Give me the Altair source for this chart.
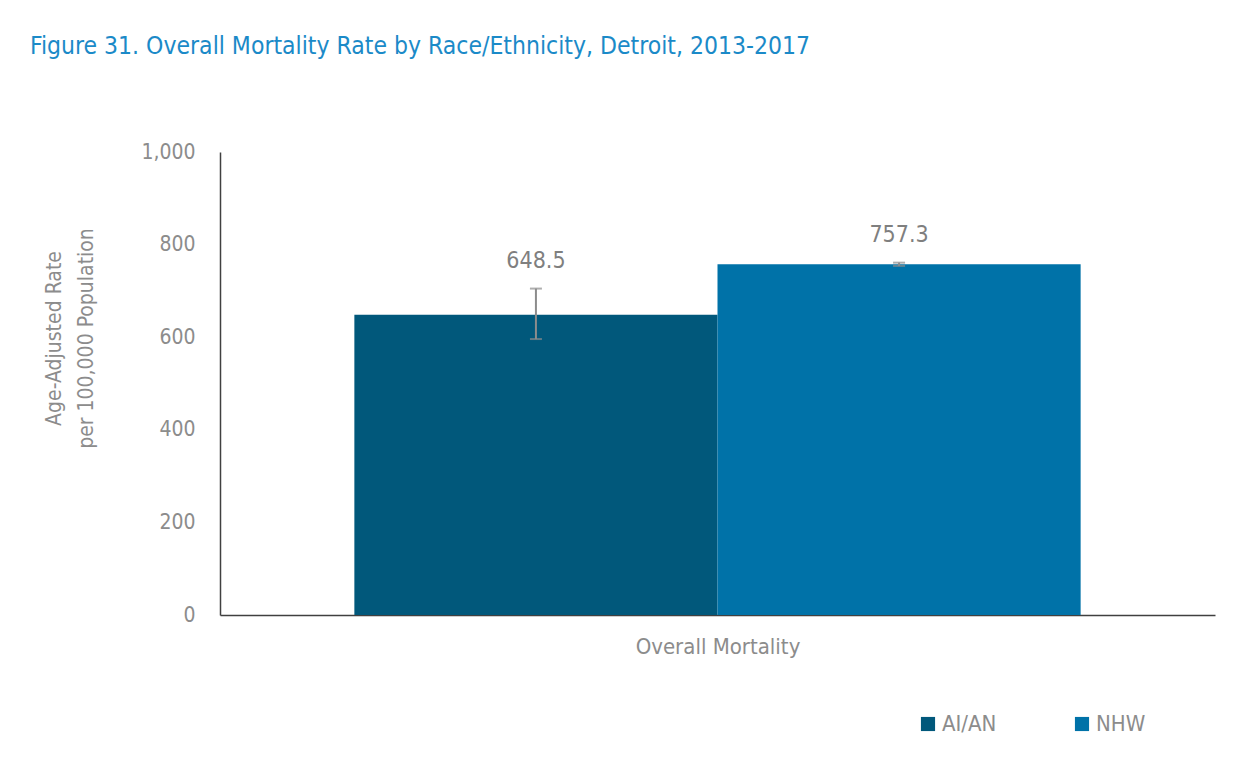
import altair as alt
import pandas as pd

groups = ["AI/AN", "NHW"]
rates = [648.5, 757.3]
lower = [596, 754]
upper = [705, 761]
labels = ["648.5", "757.3"]
colors = ["#01587B", "#0072A8"]

df = pd.DataFrame({"group": groups, "rate": rates, "lo": lower, "hi": upper, "label": labels})

FONT = "DejaVu Sans Condensed, Roboto Condensed, Liberation Sans Narrow, Roboto, sans-serif"
GRAY = "#8C8C8C"

x = alt.X("group:N", sort=groups,
          scale=alt.Scale(paddingInner=0, paddingOuter=0.37),
          axis=alt.Axis(labels=False, ticks=False, domainColor="#404040", domainWidth=1.5,
                        title="Overall Mortality", titleFont=FONT, titleFontSize=22,
                        titleFontWeight="normal", titleColor=GRAY, titlePadding=21))
y = alt.Y("rate:Q", scale=alt.Scale(domain=[0, 1000]),
          axis=alt.Axis(values=[0, 200, 400, 600, 800, 1000], format=",.0f", grid=False, ticks=False,
                        domainColor="#404040", domainWidth=1.5, labelFont=FONT, labelFontSize=21,
                        labelColor=GRAY, labelPadding=25,
                        title=["Age-Adjusted Rate", "per 100,000 Population"],
                        titleFont=FONT, titleFontSize=21, titleFontWeight="normal",
                        titleLineHeight=32, titleY=186,
                        titleColor=GRAY, titlePadding=44))

base = alt.Chart(df)
bars = base.mark_bar().encode(
    x=x, y=y,
    color=alt.Color("group:N", sort=groups, scale=alt.Scale(domain=groups, range=colors),
                    legend=alt.Legend(title=None, orient="none", legendX=697, legendY=561,
                                      direction="horizontal", symbolType="square", symbolSize=200,
                                      symbolStrokeWidth=0, labelFont=FONT, labelFontSize=22,
                                      labelColor=GRAY, columnPadding=74, labelOffset=3))
)
err = base.mark_rule(color=GRAY, strokeWidth=2).encode(x="group:N", y="lo:Q", y2="hi:Q")
cap_lo = base.mark_tick(color=GRAY, thickness=2, size=12).encode(x="group:N", y="lo:Q")
cap_hi = base.mark_tick(color=GRAY, thickness=2, size=12).encode(x="group:N", y="hi:Q")
text = base.mark_text(font=FONT, fontSize=23, color="#7F7F7F", dy=-28).encode(
    x="group:N", y="hi:Q", text="label:N")

chart = alt.layer(bars, err, cap_lo, cap_hi, text).properties(
    width=995, height=463,
    autosize=alt.AutoSizeParams(type="none"),
    padding={"left": 212, "top": 144, "right": 27, "bottom": 147},
    title=alt.TitleParams("Figure 31. Overall Mortality Rate by Race/Ethnicity, Detroit, 2013-2017",
                          anchor="start", frame="group", font=FONT, fontSize=24.5,
                          fontWeight="normal", color="#1B8AC8", dx=-190, offset=82),
).configure_view(stroke=None)

chart.save("out.html", embed_options={"renderer": "svg", "actions": False})
